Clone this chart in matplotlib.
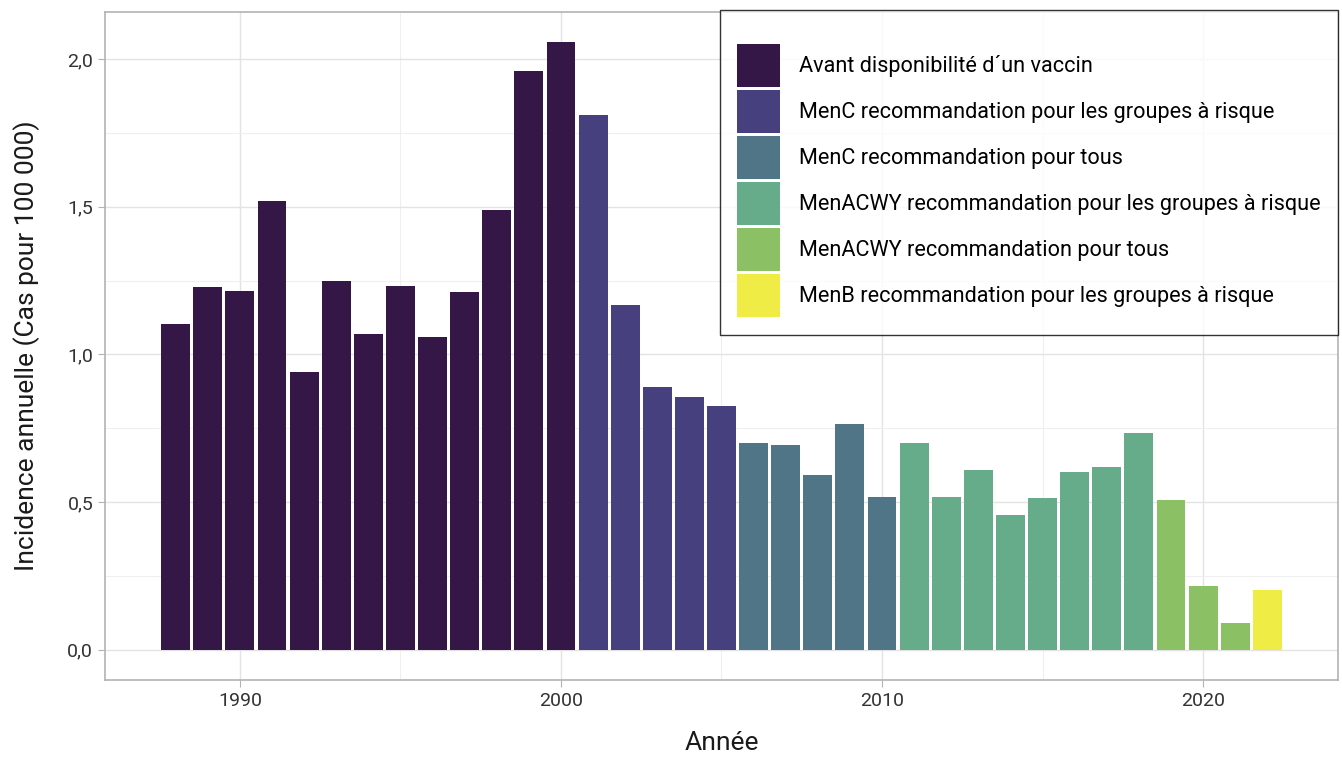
import matplotlib
matplotlib.use("Agg")
import matplotlib.pyplot as plt
from matplotlib.patches import Patch
from matplotlib.ticker import MultipleLocator, FuncFormatter

plt.rcParams['font.family'] = ['Roboto', 'DejaVu Sans']

years = list(range(1988, 2023))
values = [1.103, 1.228, 1.215, 1.519, 0.941, 1.249, 1.069, 1.232, 1.059, 1.211,
          1.489, 1.959, 2.057, 1.810, 1.167, 0.890, 0.856, 0.826, 0.700, 0.694,
          0.592, 0.765, 0.518, 0.700, 0.518, 0.609, 0.457, 0.514, 0.602, 0.619,
          0.734, 0.508, 0.217, 0.091, 0.203]
categories = ["Avant disponibilité d´un vaccin",
              "MenC recommandation pour les groupes à risque",
              "MenC recommandation pour tous",
              "MenACWY recommandation pour les groupes à risque",
              "MenACWY recommandation pour tous",
              "MenB recommandation pour les groupes à risque"]
period_start = [1988, 2001, 2006, 2011, 2019, 2022]
colors = ["#351747", "#46407F", "#507587", "#66AB8A", "#8CC065", "#F0EC46"]

def cat_index(y):
    idx = 0
    for i, s in enumerate(period_start):
        if y >= s:
            idx = i
    return idx

bar_colors = [colors[cat_index(y)] for y in years]

fig = plt.figure(figsize=(13.42, 7.58), dpi=100)
ax = fig.add_axes([105/1342, (758-680)/758, 1233/1342, 668/758])
ax.bar(years, values, width=0.9, color=bar_colors, zorder=3)

ax.set_xlim(1985.8, 2024.2)
ax.set_ylim(-0.103, 2.16)
ax.xaxis.set_major_locator(MultipleLocator(10))
ax.xaxis.set_minor_locator(MultipleLocator(5))
ax.yaxis.set_major_locator(MultipleLocator(0.5))
ax.yaxis.set_minor_locator(MultipleLocator(0.25))
ax.yaxis.set_major_formatter(FuncFormatter(lambda v, p: f"{v:.1f}".replace('.', ',')))
ax.grid(which='major', color='#e3e3e3', linewidth=1.0, zorder=0)
ax.grid(which='minor', color='#efefef', linewidth=0.8, zorder=0)
ax.tick_params(which='major', length=5, color='#b3b3b3', labelsize=14, labelcolor='#333333')
ax.tick_params(which='minor', length=0)
for s in ax.spines.values():
    s.set_color('#b3b3b3')
    s.set_linewidth(1.2)

ax.set_xlabel("Année", fontsize=19, color='#1a1a1a', labelpad=15)
ax.set_ylabel("Incidence annuelle (Cas pour 100 000)", fontsize=19, color='#1a1a1a', labelpad=20)

handles = [Patch(facecolor=c, edgecolor='none', label=l) for c, l in zip(colors, categories)]
leg = ax.legend(handles=handles, loc='upper right', bbox_to_anchor=(1.0, 1.003),
                fontsize=15.6, frameon=True, fancybox=False, edgecolor='black',
                handlelength=1.98, handleheight=2.68, handletextpad=0.85,
                labelspacing=0.14, borderpad=0.82, borderaxespad=0.0,
                title=' ', title_fontsize=8.5)
leg.get_frame().set_linewidth(1.0)
leg.set_zorder(5)

fig.savefig("out.png", dpi=100)
